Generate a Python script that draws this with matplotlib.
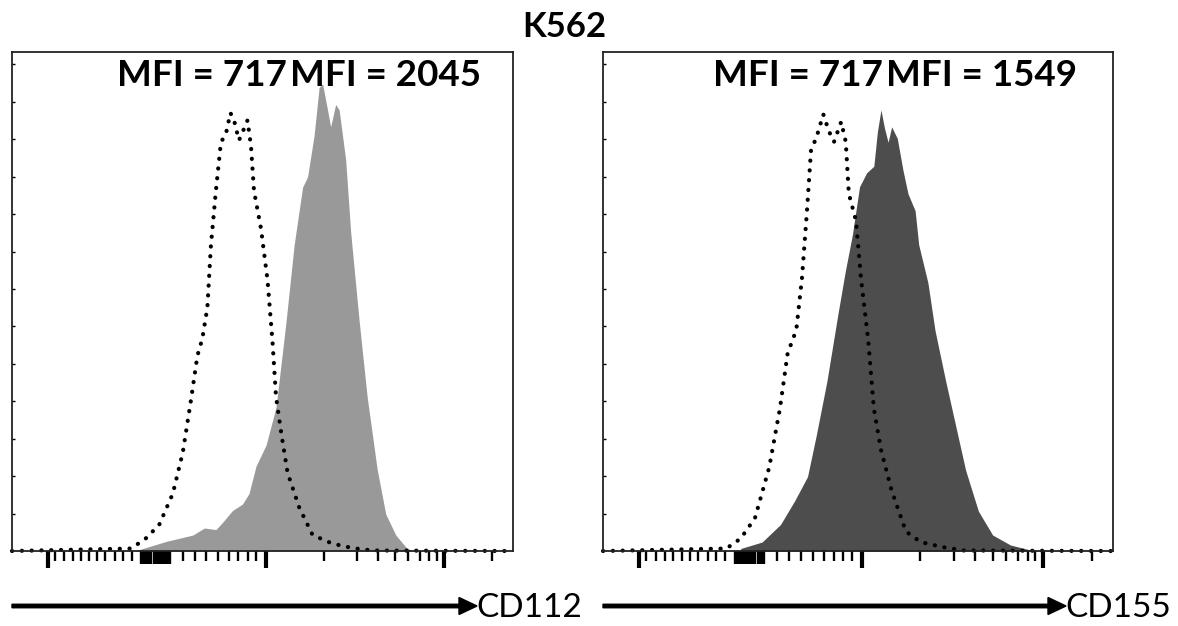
import matplotlib.pyplot as plt
from matplotlib.patches import FancyArrow

plt.rcParams['font.family'] = ['Lato', 'DejaVu Sans']

# x positions are fractions of the channel axis, y is % of the panel height
iso_x = [0.0, 0.238, 0.268, 0.294, 0.321, 0.341, 0.357, 0.370, 0.380, 0.390, 0.397,
         0.407, 0.417, 0.427, 0.436, 0.444, 0.453, 0.463, 0.470, 0.477, 0.483,
         0.497, 0.510, 0.520, 0.527, 0.537, 0.550, 0.573, 0.600, 0.639, 0.679,
         0.719, 1.0]
iso_y = [0.0, 0.5, 2.6, 5.3, 11.5, 19.8, 30.1, 39.1, 42.6, 48.8, 61.2,
         72.2, 81.9, 83.6, 87.8, 86.0, 82.3, 84.6, 86.3, 81.2, 72.2,
         64.6, 54.3, 41.9, 30.9, 23.9, 15.7, 8.8, 3.2, 1.5, 0.6,
         0.1, 0.0]

cd112_x = [0.248, 0.307, 0.361, 0.384, 0.407, 0.420, 0.440, 0.460, 0.473, 0.487,
           0.507, 0.527, 0.547, 0.563, 0.580, 0.590, 0.603, 0.613, 0.620, 0.629,
           0.636, 0.646, 0.653, 0.666, 0.676, 0.693, 0.709, 0.729, 0.746, 0.766,
           0.786, 0.799]
cd112_y = [0.1, 1.9, 3.2, 4.6, 4.3, 5.7, 8.1, 9.4, 11.5, 17.0,
           21.2, 28.8, 46.0, 61.2, 72.9, 75.0, 83.3, 92.9, 93.6, 88.8,
           85.0, 89.5, 88.4, 78.4, 63.9, 46.0, 30.8, 16.3, 7.4, 3.2,
           0.8, 0.0]

iso2_x = [0.0, 0.242, 0.270, 0.298, 0.326, 0.347, 0.362, 0.379, 0.390, 0.400,
          0.408, 0.418, 0.432, 0.443, 0.453, 0.467, 0.476, 0.482, 0.496, 0.506,
          0.520, 0.531, 0.545, 0.566, 0.594, 0.623, 0.665, 0.707, 1.0]
iso2_y = [0.0, 0.5, 2.5, 6.6, 16.8, 28.6, 39.6, 44.3, 54.5, 68.2,
          80.5, 82.7, 87.5, 84.1, 82.0, 86.0, 82.0, 71.6, 66.2, 54.5,
          42.3, 28.6, 20.3, 12.1, 3.9, 1.8, 0.8, 0.1, 0.0]

cd155_x = [0.270, 0.312, 0.348, 0.376, 0.401, 0.418, 0.439, 0.461, 0.475, 0.489,
           0.503, 0.517, 0.531, 0.538, 0.545, 0.552, 0.559, 0.566, 0.577, 0.588,
           0.598, 0.612, 0.619, 0.637, 0.651, 0.672, 0.693, 0.711, 0.736, 0.764,
           0.799, 0.834, 0.855]
cd155_y = [0.5, 1.8, 5.3, 10.1, 14.9, 23.1, 34.0, 47.7, 56.0, 63.4,
           73.0, 75.8, 77.1, 84.0, 88.4, 84.7, 81.9, 85.0, 82.7, 76.4,
           71.6, 68.2, 61.4, 53.8, 44.2, 34.0, 24.4, 16.2, 8.0, 3.2,
           1.2, 0.3, 0.0]

tick_major = [0.071, 0.507, 0.862]
tick_minor = [0.085, 0.103, 0.122, 0.138, 0.154, 0.170, 0.186, 0.205, 0.222, 0.240,
              0.342, 0.365, 0.388, 0.412, 0.433, 0.452, 0.471, 0.488,
              0.622, 0.688, 0.730, 0.764, 0.791, 0.814, 0.833, 0.848, 0.958]
# dense ticks around zero that merge into a block
tick_zero = [0.258, 0.262, 0.266, 0.270, 0.274, 0.278, 0.283, 0.287, 0.291,
             0.295, 0.299, 0.303, 0.307, 0.311, 0.315]

panels = [
    dict(iso=(iso_x, iso_y), pos=(cd112_x, cd112_y), color='#999999',
         mfi=('MFI = 717', 'MFI = 2045'), marker='CD112',
         rect=[12, 52, 501, 499], arrow_end=477),
    dict(iso=(iso2_x, iso2_y), pos=(cd155_x, cd155_y), color='#4d4d4d',
         mfi=('MFI = 717', 'MFI = 1549'), marker='CD155',
         rect=[603, 52, 510, 499], arrow_end=1066),
]

W, H = 1178, 626
fig = plt.figure(figsize=(W / 100, H / 100), dpi=100)

for p in panels:
    x0, top, w, h = p['rect']
    ax = fig.add_axes([x0 / W, (H - top - h) / H, w / W, h / H])
    ax.fill_between(p['pos'][0], p['pos'][1], 0, color=p['color'], lw=0)
    ax.plot(p['iso'][0], p['iso'][1], color='black', lw=3.0,
            linestyle=(0, (0.05, 2.3)), dash_capstyle='round', clip_on=False)
    ax.set_xlim(0, 1)
    ax.set_ylim(0, 100)
    ax.set_xticks(tick_major)
    ax.set_xticks(tick_minor + tick_zero, minor=True)
    ax.set_xticklabels([])
    ax.tick_params(axis='x', which='major', length=12, width=3.0, direction='out')
    ax.tick_params(axis='x', which='minor', length=7, width=1.7, direction='out')
    for t, loc in zip(ax.xaxis.get_minor_ticks(), tick_minor + tick_zero):
        if loc in tick_zero:
            t.tick1line.set_markersize(9)
    ax.set_yticks([7.5 * i for i in range(1, 14)])
    ax.set_yticklabels([])
    ax.tick_params(axis='y', length=2, width=1, direction='in')
    for s in ax.spines.values():
        s.set_linewidth(1.3)
        s.set_color('#222222')
    ax.text(0.549, 0.952, p['mfi'][0], transform=ax.transAxes, ha='right',
            va='center', fontsize=26.5, fontweight='bold')
    ax.text(0.555, 0.952, p['mfi'][1], transform=ax.transAxes, ha='left',
            va='center', fontsize=26.5, fontweight='bold')

    # axis arrow with marker name
    ya = (H - 606) / H
    xe = p['arrow_end']
    fig.add_artist(FancyArrow(
        x0 / W, ya, (xe - x0) / W, 0, width=3.5 / H, head_width=17 / H,
        head_length=18 / W, length_includes_head=True, color='black',
        transform=fig.transFigure))
    fig.text((xe - 1) / W, ya - 2 / H, p['marker'], ha='left', va='center',
             fontsize=24)

fig.text(564 / W, (H - 27) / H, 'K562', ha='center', va='center',
         fontsize=25, fontweight='bold')

fig.savefig('out.png', dpi=100)
